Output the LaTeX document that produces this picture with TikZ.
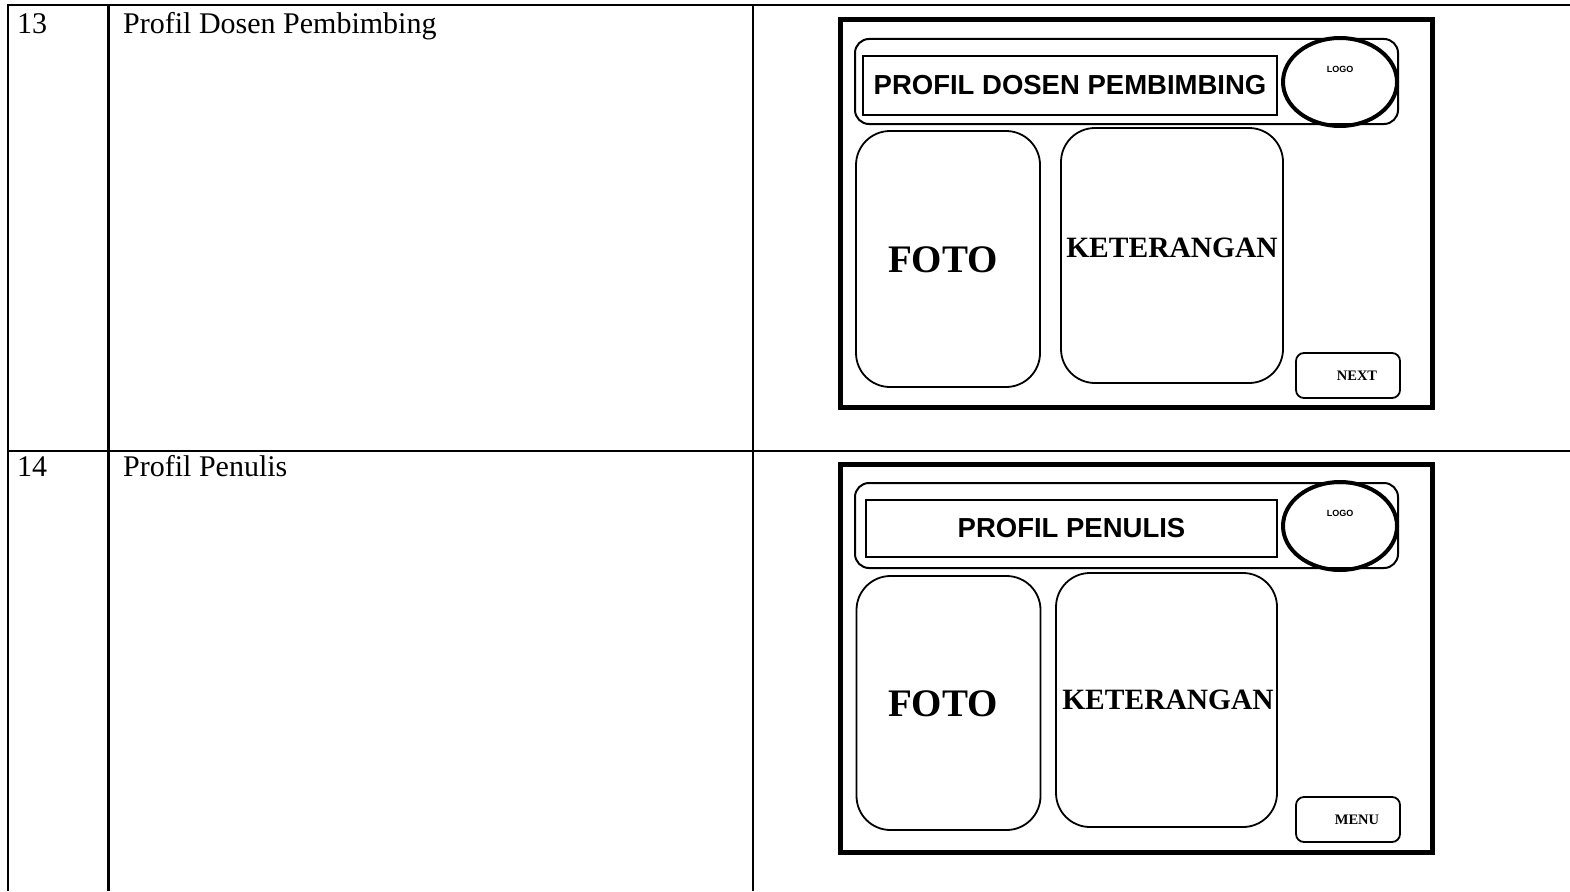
\documentclass[tikz,border=0pt]{standalone}
\usepackage{fontspec}
\usetikzlibrary{shapes.geometric}
\setmainfont{Liberation Serif}
\newfontfamily\uisans{Liberation Sans}
\begin{document}
\begin{tikzpicture}[x=1pt,y=-1pt,
  rule/.style={line width=2.6pt},
  cell/.style={anchor=base west,inner sep=0pt,font=\fontsize{30}{30}\selectfont},
  frame/.style={draw,line width=5pt},
  headbar/.style={draw,line width=2pt,rounded corners=14pt},
  titlebox/.style={draw,line width=2pt,font=\uisans\bfseries\fontsize{27.5}{28}\selectfont},
  logo/.style={draw,ellipse,line width=4pt,inner sep=0pt},
  logotext/.style={font=\uisans\bfseries\fontsize{9}{9}\selectfont,inner sep=0pt},
  panel/.style={draw,line width=1.8pt,rounded corners=34pt,inner sep=0pt},
  btn/.style={draw,line width=1.8pt,rounded corners=8pt,inner sep=0pt,
    minimum width=104pt,minimum height=45pt,font=\bfseries\fontsize{14.5}{15}\selectfont}]
\useasboundingbox (0,0) rectangle (1570,891);

% table grid
\draw[rule] (6.7,5) -- (1570,5);
\draw[rule] (8,451) -- (1570,451);
\draw[rule] (8,5) -- (8,891);
\draw[rule] (108.5,5) -- (108.5,891);
\draw[rule] (753,5) -- (753,891);

% table texts
\node[cell] (n13) at (17,34) {13};
\node[cell] (t13) at (123,34) {Profil Dosen Pembimbing};
\node[cell] (n14) at (17,476) {14};
\node[cell] (t14) at (123,476) {Profil Penulis};

% screen 13: lecturer profile
\draw[frame] (840,20) rectangle (1432,407);
\draw[headbar] (855,39) rectangle (1398,124);
\node[titlebox,minimum width=414pt,minimum height=59pt] (title1) at (1070,85.5) {PROFIL DOSEN PEMBIMBING};
\node[logo,minimum width=114pt,minimum height=88pt] (logo1) at (1340,82) {};
\node[logotext] (logot1) at (1340,69) {LOGO};
\node[panel,minimum width=184pt,minimum height=256pt] (foto1) at (948,259) {};
\node[font=\bfseries\fontsize{39}{39}\selectfont] (fotot1) at (943,260) {FOTO};
\node[panel,minimum width=222pt,minimum height=255pt] (ket1) at (1172,255.5) {};
\node[font=\bfseries\fontsize{29.5}{30}\selectfont] (kett1) at (1172,248) {KETERANGAN};
\node[btn] (next) at (1348,375.5) {\hspace*{18pt}NEXT};

% screen 14: author profile
\draw[frame] (840,464) rectangle (1432,852);
\draw[headbar] (855,483) rectangle (1398,568);
\node[titlebox,minimum width=411pt,minimum height=57pt] (title2) at (1071.5,528.5) {PROFIL PENULIS};
\node[logo,minimum width=114pt,minimum height=88pt] (logo2) at (1340,526) {};
\node[logotext] (logot2) at (1340,513) {LOGO};
\node[panel,minimum width=184pt,minimum height=254pt] (foto2) at (948.5,703) {};
\node[font=\bfseries\fontsize{39}{39}\selectfont] (fotot2) at (943,704) {FOTO};
\node[panel,minimum width=221pt,minimum height=254pt] (ket2) at (1166.5,700) {};
\node[font=\bfseries\fontsize{29.5}{30}\selectfont] (kett2) at (1168,700) {KETERANGAN};
\node[btn] (menu) at (1348,819.5) {\hspace*{18pt}MENU};
\end{tikzpicture}
\end{document}
